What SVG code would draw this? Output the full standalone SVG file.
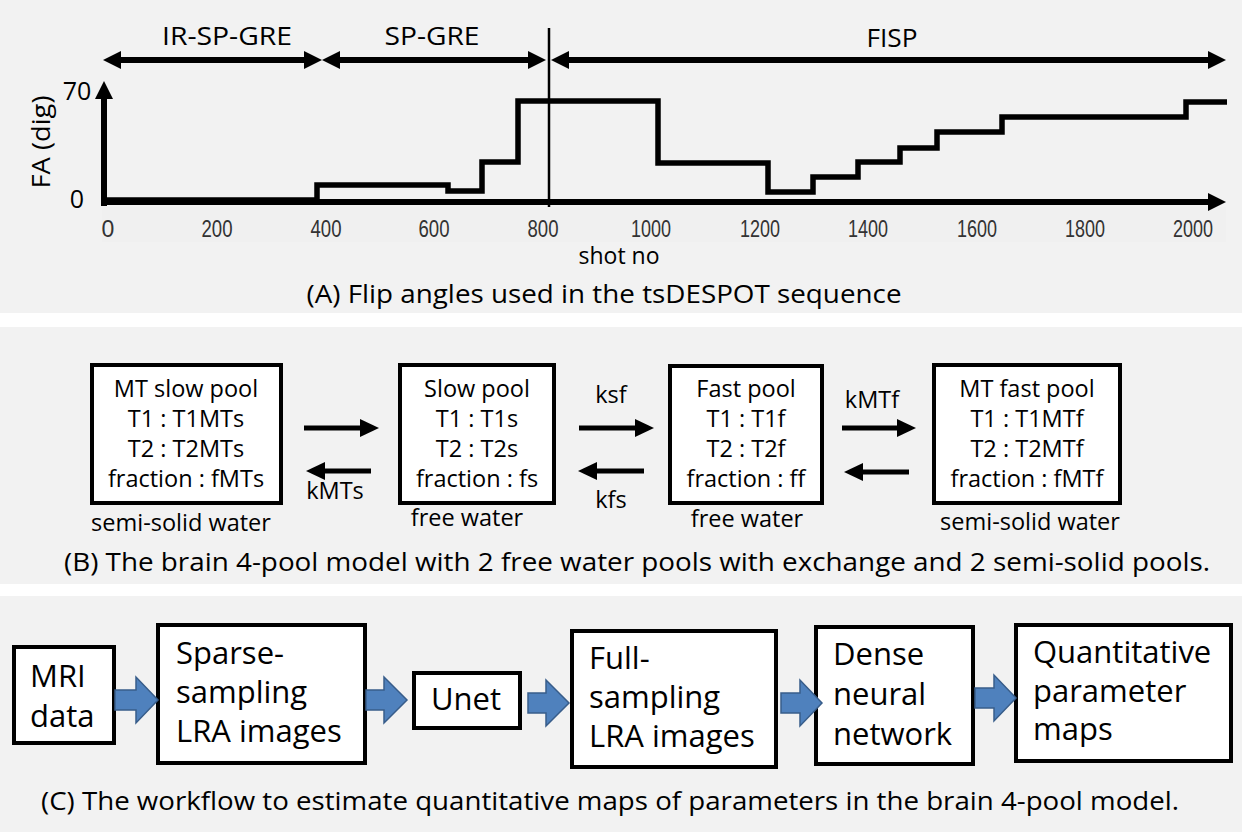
<svg xmlns="http://www.w3.org/2000/svg" width="1246" height="838" viewBox="0 0 1246 838">
<style>
.bg{fill:#f2f2f2}
.t{font-family:"Open Sans","Noto Sans",sans-serif;fill:#000}
.lab{font-size:25px}
.tick{font-family:"Liberation Sans Narrow","Liberation Sans",sans-serif;font-size:23px;fill:#333;text-anchor:middle}
.pb{font-size:23.5px;text-anchor:middle}
.pc{font-size:31px}
.cap{font-size:25px;text-anchor:middle}
.box{fill:#fff;stroke:#000;stroke-width:4}
.ax{stroke:#000;stroke-width:6;fill:none}
.curve{stroke:#000;stroke-width:5.5;fill:none;stroke-linejoin:miter}
.conn{stroke:#000;stroke-width:5;fill:none}
.blk{fill:#4f81bd;stroke:#385d8a;stroke-width:1.5}
</style>
<defs>
<marker id="ah" markerUnits="userSpaceOnUse" markerWidth="18" markerHeight="18" viewBox="0 0 18 18" refX="1" refY="9" orient="auto-start-reverse">
<path d="M0,0 L18,9 L0,18 z" fill="#000"/>
</marker>
<marker id="ah2" markerUnits="userSpaceOnUse" markerWidth="19" markerHeight="18" viewBox="0 0 19 18" refX="1" refY="9" orient="auto">
<path d="M0,0 L19,9 L0,18 z" fill="#000"/>
</marker>
</defs>

<g id="panels">
<rect class="bg" x="0" y="0" width="1242" height="313"/>
<rect class="bg" x="0" y="327" width="1242" height="257"/>
<rect class="bg" x="0" y="596" width="1242" height="236"/>
</g>

<g id="chart">
<rect x="102" y="207" width="1124" height="35" fill="#f0f0f0"/>
<line class="ax" x1="104" y1="206" x2="104" y2="98" marker-end="url(#ah)"/>
<line class="ax" x1="101" y1="202" x2="1209" y2="202" marker-end="url(#ah)"/>
<path class="curve" d="M104,200 H317 V185 H448 V191 H482 V162 H518 V101 H658 V163 H768 V192 H813 V177 H858 V162 H900 V148 H937 V132 H1002 V117 H1186 V102 H1227"/>
<line x1="549" y1="28" x2="549" y2="207" stroke="#000" stroke-width="2.5"/>
<line class="ax" x1="120" y1="60" x2="305" y2="60" marker-start="url(#ah)" marker-end="url(#ah)"/>
<line class="ax" x1="339" y1="60" x2="529" y2="60" marker-start="url(#ah)" marker-end="url(#ah)"/>
<line class="ax" x1="568" y1="60" x2="1209" y2="60" marker-start="url(#ah)" marker-end="url(#ah)"/>
<text class="t lab" x="227" y="45" text-anchor="middle" textLength="130" lengthAdjust="spacingAndGlyphs">IR-SP-GRE</text>
<text class="t lab" x="432" y="45" text-anchor="middle" textLength="95" lengthAdjust="spacingAndGlyphs">SP-GRE</text>
<text class="t lab" x="892" y="47" text-anchor="middle" textLength="51" lengthAdjust="spacingAndGlyphs">FISP</text>
<text class="t lab" x="77" y="100" text-anchor="middle">70</text>
<text class="t lab" x="77" y="208" text-anchor="middle">0</text>
<text class="t lab" transform="translate(50,142) rotate(-90)" x="0" y="0" text-anchor="middle" textLength="93" lengthAdjust="spacingAndGlyphs">FA (dig)</text>
<text class="tick" x="108" y="237">0</text>
<text class="tick" x="217" y="237" textLength="31" lengthAdjust="spacingAndGlyphs">200</text>
<text class="tick" x="326" y="237" textLength="31" lengthAdjust="spacingAndGlyphs">400</text>
<text class="tick" x="434" y="237" textLength="31" lengthAdjust="spacingAndGlyphs">600</text>
<text class="tick" x="543" y="237" textLength="31" lengthAdjust="spacingAndGlyphs">800</text>
<text class="tick" x="651" y="237" textLength="40" lengthAdjust="spacingAndGlyphs">1000</text>
<text class="tick" x="760" y="237" textLength="40" lengthAdjust="spacingAndGlyphs">1200</text>
<text class="tick" x="868" y="237" textLength="40" lengthAdjust="spacingAndGlyphs">1400</text>
<text class="tick" x="977" y="237" textLength="40" lengthAdjust="spacingAndGlyphs">1600</text>
<text class="tick" x="1085" y="237" textLength="40" lengthAdjust="spacingAndGlyphs">1800</text>
<text class="tick" x="1193" y="237" textLength="40" lengthAdjust="spacingAndGlyphs">2000</text>
<text class="t" x="619" y="264" font-size="23" text-anchor="middle">shot no</text>
<text class="t cap" x="604" y="303" textLength="595" lengthAdjust="spacingAndGlyphs">(A) Flip angles used in the tsDESPOT sequence</text>
</g>

<g id="mt-slow-pool">
<rect class="box" x="92" y="365" width="189" height="138"/>
<text class="t pb" x="186" y="397">MT slow pool</text>
<text class="t pb" x="186" y="427">T1 : T1MTs</text>
<text class="t pb" x="186" y="457">T2 : T2MTs</text>
<text class="t pb" x="186" y="487">fraction : fMTs</text>
<text class="t pb" x="181" y="531">semi-solid water</text>
</g>
<g id="slow-pool">
<rect class="box" x="400" y="365" width="154" height="138"/>
<text class="t pb" x="477" y="397">Slow pool</text>
<text class="t pb" x="477" y="427">T1 : T1s</text>
<text class="t pb" x="477" y="457">T2 : T2s</text>
<text class="t pb" x="477" y="487">fraction : fs</text>
<text class="t pb" x="467" y="526">free water</text>
</g>
<g id="fast-pool">
<rect class="box" x="670" y="366" width="152" height="137"/>
<text class="t pb" x="746" y="397">Fast pool</text>
<text class="t pb" x="746" y="427">T1 : T1f</text>
<text class="t pb" x="746" y="457">T2 : T2f</text>
<text class="t pb" x="746" y="487">fraction : ff</text>
<text class="t pb" x="747" y="527">free water</text>
</g>
<g id="mt-fast-pool">
<rect class="box" x="934" y="365" width="186" height="138"/>
<text class="t pb" x="1027" y="397">MT fast pool</text>
<text class="t pb" x="1027" y="427">T1 : T1MTf</text>
<text class="t pb" x="1027" y="457">T2 : T2MTf</text>
<text class="t pb" x="1027" y="487">fraction : fMTf</text>
<text class="t pb" x="1030" y="530">semi-solid water</text>
</g>
<text class="t cap" x="637" y="571" textLength="1146" lengthAdjust="spacingAndGlyphs">(B) The brain 4-pool model with 2 free water pools with exchange and 2 semi-solid pools.</text>

<g id="mri-data">
<rect class="box" x="14" y="647" width="100" height="96"/>
<text class="t pc" x="30" y="687">MRI</text>
<text class="t pc" x="30" y="727">data</text>
</g>
<g id="sparse">
<rect class="box" x="158" y="625" width="207" height="138"/>
<text class="t pc" x="176" y="664">Sparse-</text>
<text class="t pc" x="176" y="703">sampling</text>
<text class="t pc" x="176" y="742">LRA images</text>
</g>
<g id="unet">
<rect class="box" x="414" y="673" width="106" height="55"/>
<text class="t pc" x="431" y="710">Unet</text>
</g>
<g id="full">
<rect class="box" x="572" y="631" width="204" height="136"/>
<text class="t pc" x="589" y="669">Full-</text>
<text class="t pc" x="589" y="708">sampling</text>
<text class="t pc" x="589" y="747">LRA images</text>
</g>
<g id="dense">
<rect class="box" x="816" y="627" width="157" height="137"/>
<text class="t pc" x="833" y="665">Dense</text>
<text class="t pc" x="833" y="705">neural</text>
<text class="t pc" x="833" y="745">network</text>
</g>
<g id="quant">
<rect class="box" x="1016" y="625" width="215" height="136"/>
<text class="t pc" x="1033" y="663">Quantitative</text>
<text class="t pc" x="1033" y="702">parameter</text>
<text class="t pc" x="1033" y="740">maps</text>
</g>
<text class="t cap" x="610" y="810" textLength="1138" lengthAdjust="spacingAndGlyphs">(C) The workflow to estimate quantitative maps of parameters in the brain 4-pool model.</text>

<g id="connectors">
<line class="conn" x1="304" y1="428" x2="361" y2="428" marker-end="url(#ah2)"/>
<line class="conn" x1="371" y1="471" x2="324" y2="471" marker-end="url(#ah2)"/>
<text class="t pb" x="335" y="499">kMTs</text>
<line class="conn" x1="579" y1="428" x2="636" y2="428" marker-end="url(#ah2)"/>
<line class="conn" x1="644" y1="471" x2="596" y2="471" marker-end="url(#ah2)"/>
<text class="t pb" x="611" y="403">ksf</text>
<text class="t pb" x="611" y="508">kfs</text>
<line class="conn" x1="842" y1="428" x2="898" y2="428" marker-end="url(#ah2)"/>
<line class="conn" x1="909" y1="472" x2="862" y2="472" marker-end="url(#ah2)"/>
<text class="t pb" x="872" y="408">kMTf</text>
<polygon class="blk" points="115,690 136,690 136,677 158,700 136,723 136,710 115,710"/>
<polygon class="blk" points="366,690 384,690 384,677 407,700 384,723 384,710 366,710"/>
<polygon class="blk" points="528,693 546,693 546,680 569,703 546,726 546,713 528,713"/>
<polygon class="blk" points="781,693 800,693 800,680 822,703 800,726 800,713 781,713"/>
<polygon class="blk" points="975,688 994,688 994,675 1016,698 994,721 994,708 975,708"/>
</g>
</svg>
